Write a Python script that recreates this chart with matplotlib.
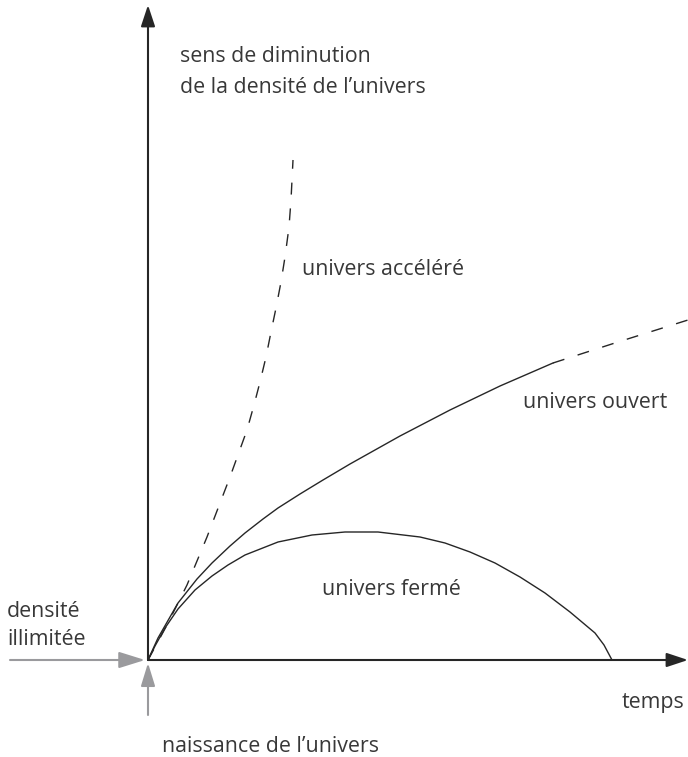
import matplotlib
matplotlib.use('Agg')
import matplotlib.pyplot as plt

plt.rcParams['font.family'] = ['Open Sans', 'DejaVu Sans']
plt.rcParams['lines.scale_dashes'] = False

# values (time, size), origin = big bang
closed_t = [0, 7, 17, 30, 47, 64, 80, 97, 130, 164, 197, 230, 272, 297, 322, 347, 372, 397, 422, 447, 456, 464]
closed_y = [0, 14, 32, 51, 70, 84, 95, 105, 118, 125, 128, 128, 123, 117, 108, 97, 83, 67, 48, 27, 15, 0]

open_t = [0, 10, 30, 49, 64, 82, 97, 115, 130, 152, 175, 202, 252, 302, 352, 405]
open_y = [0, 22, 57, 81, 97, 114, 127, 141, 152, 166, 180, 196, 224, 250, 274, 297]
open_dash_t = [405, 470, 540]
open_dash_y = [297, 318, 340]

acc_t = [0, 19, 39, 59, 82, 99, 106, 112, 118, 123, 128, 133, 137, 141, 143, 145]
acc_y = [0, 35, 75, 123, 183, 230, 255, 278, 303, 328, 352, 378, 403, 433, 460, 500]

ink = '#262626'
txt = '#383838'
grey = '#9a9a9d'

fig = plt.figure(figsize=(6.88, 7.57), dpi=100)
ax = fig.add_axes([0, 0, 1, 1])
ax.set_xlim(-148, 540)
ax.set_ylim(-97, 660)
ax.axis('off')


def arrow(x0, y0, x1, y1, color, hl, hw, lw):
    ax.annotate('', xy=(x1, y1), xytext=(x0, y0),
                arrowprops=dict(arrowstyle='-|>,head_length=%g,head_width=%g' % (hl, hw),
                                mutation_scale=1, shrinkA=0, shrinkB=0,
                                color=color, lw=lw))


# axes
arrow(0, 0, 0, 655, ink, 13, 4.3, 1.5)
arrow(0, 0, 540, 0, ink, 13, 4.3, 1.5)
# grey arrows
arrow(-138, 0, -3, 0, grey, 16, 5, 1.5)
arrow(0, -55, 0, -3, grey, 14, 4.3, 1.5)

ax.plot(closed_t, closed_y, color=ink, lw=1.0, solid_joinstyle='round')
ax.plot(open_t, open_y, color=ink, lw=1.0, solid_joinstyle='round')
ax.plot(open_dash_t, open_dash_y, color=ink, lw=1.0, dashes=(8.6, 10))
ax.plot(acc_t, acc_y, color=ink, lw=1.0, dashes=(8.6, 10))

fs = 15.4
kw = dict(fontsize=fs, color=txt, va='baseline')
ax.text(32, 598, 'sens de diminution', **kw)
ax.text(32, 567, 'de la densité de l’univers', **kw)
ax.text(154, 385, 'univers accéléré', **kw)
ax.text(375, 252, 'univers ouvert', **kw)
ax.text(174, 65, 'univers fermé', **kw)
ax.text(474, -48, 'temps', **kw)
ax.text(-141, 43, 'densité', **kw)
ax.text(-141, 15, 'illimitée', **kw)
ax.text(14, -92, 'naissance de l’univers', **kw)

fig.savefig('out.png', dpi=100)
